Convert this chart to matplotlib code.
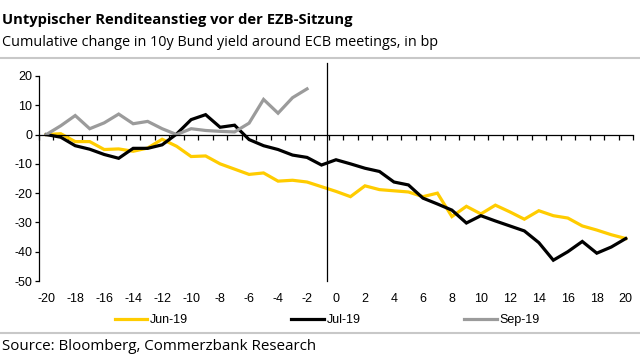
import numpy as np
import matplotlib.pyplot as plt
from matplotlib.lines import Line2D

plt.rcParams['font.family'] = ['Liberation Sans', 'DejaVu Sans']
plt.rcParams['axes.unicode_minus'] = False

# days around the ECB meeting
DAYS = list(range(-20, 21))

JUN_19 = [0, 0.3, -2.4, -2.4, -5.1, -4.9, -5.7, -4.6, -1.6, -4.0,
          -7.5, -7.3, -10.0, -11.8, -13.6, -13.1, -15.9, -15.6, -16.2, -17.8,
          -19.4, -21.2, -17.5, -18.8, -19.2, -19.6, -21.2, -20.0, -28.0, -24.5,
          -27.1, -24.1, -26.4, -28.9, -26.0, -27.7, -28.5, -31.2, -32.6, -34.2,
          -35.5]
JUL_19 = [0, -0.9, -3.8, -5.0, -6.8, -8.1, -4.7, -4.7, -3.5, 0.2,
          5.1, 6.8, 2.5, 3.2, -1.7, -3.8, -5.1, -7.0, -7.8, -10.4,
          -8.6, -10.0, -11.5, -12.6, -16.2, -17.2, -21.7, -23.7, -25.8, -30.2,
          -27.7, -29.5, -31.2, -32.9, -36.9, -42.9, -40.0, -36.5, -40.5, -38.4,
          -35.5]
# Sep-19 only runs up to day -2
SEP_DAYS = list(range(-20, -1))
SEP_19 = [0, 3.0, 6.5, 2.0, 4.0, 7.0, 3.7, 4.5, 2.0, 0.0,
          2.0, 1.4, 1.1, 0.9, 3.9, 12.0, 7.3, 12.6, 15.6]

YELLOW = '#FFCC00'
GREY = '#9B9B9B'

fig = plt.figure(figsize=(6.4, 3.6), dpi=100)
ax = fig.add_axes([39 / 640, 1 - 281 / 360, 594 / 640, 205 / 360])

ax.plot(DAYS, JUN_19, color=YELLOW, lw=2.3, label='Jun-19', solid_joinstyle='miter')
ax.plot(DAYS, JUL_19, color='black', lw=2.3, label='Jul-19', solid_joinstyle='miter')
ax.plot(SEP_DAYS, SEP_19, color=GREY, lw=2.3, label='Sep-19', solid_joinstyle='miter')

# meeting day marker
ax.axvline(-0.6, ymin=0, ymax=1.063, color='black', lw=0.9, clip_on=False)

ax.set_xlim(-20.5, 20.5)
ax.set_ylim(-50, 20)
ax.set_yticks(range(-50, 21, 10))
ax.tick_params(axis='y', direction='out', length=3, width=0.9, labelsize=9, pad=2)

for s in ['top', 'right']:
    ax.spines[s].set_visible(False)
ax.spines['left'].set_linewidth(0.9)
ax.spines['bottom'].set_position(('data', 0))
ax.spines['bottom'].set_linewidth(0.9)
ax.set_xticks(np.arange(-20.5, 21, 1))
ax.tick_params(axis='x', direction='out', length=3.5, width=0.9, labelbottom=False)

sec = ax.secondary_xaxis('bottom')
sec.set_xticks(range(-20, 21, 2))
sec.spines['bottom'].set_visible(False)
sec.tick_params(length=0, labelsize=9, pad=9)

fig.legend(loc='center', bbox_to_anchor=(327 / 640, 1 - 320 / 360), ncol=3,
           frameon=False, fontsize=9, handlelength=2.6, handletextpad=0.2,
           columnspacing=8.3)

fig.text(2 / 640, 1 - 20 / 360, 'Untypischer Renditeanstieg vor der EZB-Sitzung',
         fontsize=10.6, fontweight='bold', family='Open Sans', va='center', ha='left')
fig.text(2 / 640, 1 - 43 / 360, 'Cumulative change in 10y Bund yield around ECB meetings, in bp',
         fontsize=10.35, family='Open Sans', va='center', ha='left')
fig.text(2 / 640, 1 - 346 / 360, 'Source: Bloomberg, Commerzbank Research',
         fontsize=10.9, family='Open Sans', va='center', ha='left')

fig.add_artist(Line2D([0, 1], [1 - 58 / 360] * 2, color='#C8C8C8', lw=1.5))
fig.add_artist(Line2D([0, 1], [1 - 333 / 360] * 2, color='#C8C8C8', lw=1.5))

fig.savefig('out.png', dpi=100)
